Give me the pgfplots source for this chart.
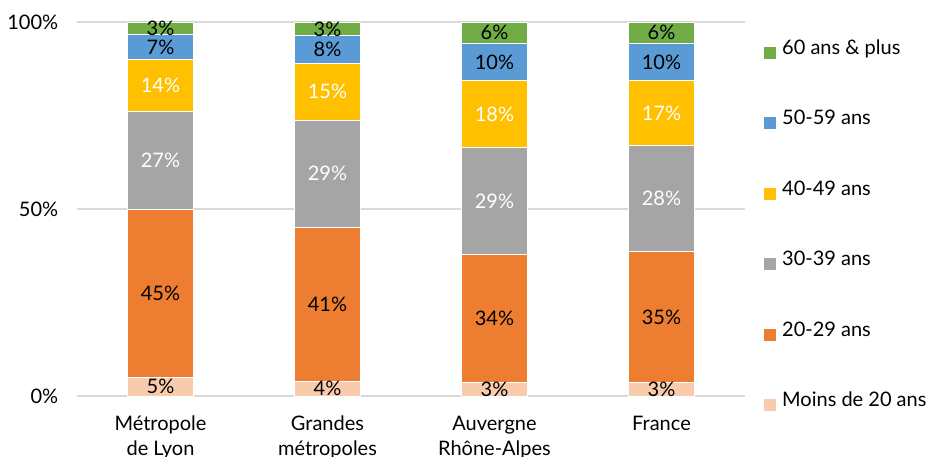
\documentclass[border=0pt]{standalone}
\usepackage{pgfplots}
\pgfplotsset{compat=1.18}
\usepackage{fontspec}
\setmainfont{Lato}
\definecolor{c60}{HTML}{70AD47}
\definecolor{c50}{HTML}{5B9BD5}
\definecolor{c40}{HTML}{FFC000}
\definecolor{c30}{HTML}{A5A5A5}
\definecolor{c20}{HTML}{ED7D31}
\definecolor{c0}{HTML}{F8CBAD}
\definecolor{gridc}{HTML}{D9D9D9}
\newcommand\lf{\fontsize{20bp}{25bp}\selectfont}
\begin{document}
\lf
\begin{tikzpicture}
\begin{axis}[
  scale only axis, width=668bp, height=374bp,
  ybar stacked, bar width=66bp,
  xmin=-0.5, xmax=3.5, ymin=0, ymax=100,
  xtick={0,1,2,3},
  xticklabels={Métropole\\de Lyon, Grandes\\métropoles, Auvergne\\Rhône-Alpes, France},
  xticklabel style={align=center, anchor=north, yshift=-13bp, font=\lf},
  ytick={0,50,100}, yticklabels={0\%,50\%,100\%},
  yticklabel style={anchor=east, xshift=-12bp, font=\lf},
  ymajorgrids, grid style={gridc, line width=1.2bp},
  axis line style={draw=none},
  major tick length=0pt,
  /pgf/number format/assume math mode=true,
  point meta=explicit,
  nodes near coords={\pgfmathprintnumber{\pgfplotspointmeta}\%},
  every node near coord/.append style={anchor=center, inner sep=0pt, font=\lf},
  reverse legend,
  legend style={at={(1,0.952)}, anchor=north west, xshift=19bp,
     draw=none, fill=none, inner sep=0pt, row sep=52bp,
     nodes={inner sep=0pt, text height=14bp, text depth=4bp, anchor=base west},
     font=\lf,
     /tikz/every odd column/.append style={column sep=6bp}},
  legend cell align=left,
  legend image code/.code={\fill[#1,draw=none] (0bp,-4.5bp) rectangle (12bp,7.5bp);},
]
\addplot[fill=c0, draw=white, line width=0.8bp, every node near coord/.append style={black}]
  coordinates {(0,5.0)[5] (1,3.9)[4] (2,3.6)[3] (3,3.6)[3]};
\addplot[fill=c20, draw=white, line width=0.8bp, every node near coord/.append style={black}]
  coordinates {(0,44.9)[45] (1,41.2)[41] (2,34.2)[34] (3,35.1)[35]};
\addplot[fill=c30, draw=white, line width=0.8bp, every node near coord/.append style={white}]
  coordinates {(0,26.3)[27] (1,28.7)[29] (2,28.7)[29] (3,28.3)[28]};
\addplot[fill=c40, draw=white, line width=0.8bp, every node near coord/.append style={white}]
  coordinates {(0,13.7)[14] (1,15.2)[15] (2,17.8)[18] (3,17.3)[17]};
\addplot[fill=c50, draw=white, line width=0.8bp, every node near coord/.append style={black}]
  coordinates {(0,6.7)[7] (1,7.3)[8] (2,10.0)[10] (3,10.0)[10]};
\addplot[fill=c60, draw=white, line width=0.8bp, every node near coord/.append style={black}]
  coordinates {(0,3.4)[3] (1,3.7)[3] (2,5.7)[6] (3,5.7)[6]};
\legend{Moins de 20 ans, 20-29 ans, 30-39 ans, 40-49 ans, 50-59 ans, 60 ans \& plus}
\coordinate (O) at (rel axis cs:0,0);
\coordinate (T) at (rel axis cs:1,1);
\end{axis}
\pgfresetboundingbox
\path[use as bounding box] ([xshift=-77bp,yshift=-61bp]O) rectangle ([xshift=182bp,yshift=22bp]T);
\end{tikzpicture}
\end{document}
